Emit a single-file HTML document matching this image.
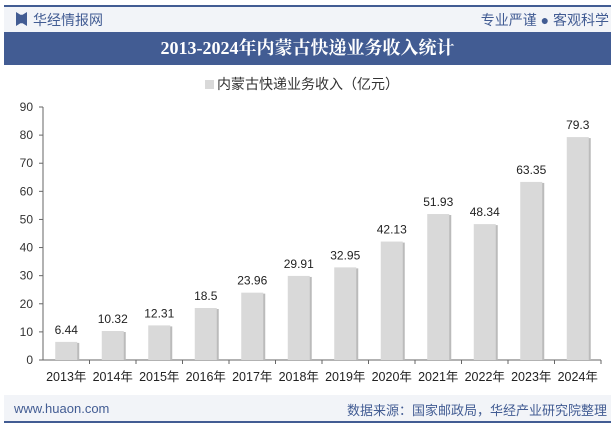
<!DOCTYPE html>
<html><head><meta charset="utf-8"><style>
body{margin:0;width:615px;height:427px;background:#fff;font-family:"Liberation Sans","Noto Sans CJK SC",sans-serif;position:relative;overflow:hidden}
.abs{position:absolute}
</style></head><body>
<div class="abs" style="left:4px;top:5px;width:607px;height:2px;background:#425c93"></div>
<div class="abs" style="left:4px;top:7px;width:607px;height:25px;background:#f2f4f8"></div>
<div class="abs" style="left:16px;top:12px;width:11px;height:14px;background:#425c93;clip-path:polygon(0 0,40% 20%,60% 20%,100% 0,100% 100%,60% 80%,40% 80%,0 100%)"></div>
<div class="abs" style="left:33px;top:10px;font-size:14px;color:#425c93">华经情报网</div>
<div class="abs" style="right:6px;top:10px;font-size:14px;color:#425c93">专业严谨 ● 客观科学</div>
<div class="abs" style="left:4px;top:32px;width:607px;height:33px;background:#425c93;color:#fff;font-family:'Liberation Serif','Noto Serif CJK SC',serif;font-weight:bold;font-size:18px;text-align:center;line-height:33px">2013-2024年内蒙古快递业务收入统计</div>
<div class="abs" style="left:205px;top:74px;font-size:14px;color:#333"><span style="display:inline-block;width:9px;height:9px;background:#d9d9d9;margin-right:3px"></span>内蒙古快递业务收入（亿元）</div>
<svg class="abs" style="left:0;top:0" width="615" height="427" id="chart"></svg>
<div class="abs" style="left:4px;top:395px;width:607px;height:27px;background:#f2f4f8"></div>
<div class="abs" style="left:4px;top:421px;width:607px;height:2px;background:#425c93"></div>
<div class="abs" style="left:14px;top:401px;font-size:13px;color:#425c93">www.huaon.com</div>
<div class="abs" style="right:8px;top:400px;font-size:13px;color:#425c93">数据来源：国家邮政局，华经产业研究院整理</div>
<script>
const categories=["2013年","2014年","2015年","2016年","2017年","2018年","2019年","2020年","2021年","2022年","2023年","2024年"];
const values=[6.44,10.32,12.31,18.5,23.96,29.91,32.95,42.13,51.93,48.34,63.35,79.3];
const valueLabels=["6.44","10.32","12.31","18.5","23.96","29.91","32.95","42.13","51.93","48.34","63.35","79.3"];
const yTicks=[0,10,20,30,40,50,60,70,80,90];
const svg=document.getElementById('chart');const NS='http://www.w3.org/2000/svg';
const x0=43,x1=601,y0=360,y1=107,ymax=90;
const bw=(x1-x0)/categories.length;
const y=v=>y0-(v/ymax)*(y0-y1);
const xc=i=>x0+bw*(i+0.5);
function mk(t,a,txt){const e=document.createElementNS(NS,t);for(const k in a)e.setAttribute(k,a[k]);if(txt!=null)e.textContent=txt;svg.appendChild(e);return e;}
let e=mk('line',{x1:x0,y1:y1,x2:x0,y2:y0,stroke:'#666'});

e=mk('line',{x1:x0,y1:y0,x2:x1,y2:y0,stroke:'#666'});

yTicks.forEach(t=>{const l=mk('line',{x1:x0-4,y1:y(t),x2:x0,y2:y(t),stroke:'#666'});

const tx=mk('text',{x:x0-10,y:y(t)+4,'text-anchor':'end','font-size':12,fill:'#333'},t);
});
categories.forEach((c,i)=>{
const tk=mk('line',{x1:x0+bw*(i+1),y1:y0,x2:x0+bw*(i+1),y2:y0+4,stroke:'#666'});

const sh=mk('rect',{x:xc(i)-11+2,y:y(values[i])+1,width:22,height:y0-y(values[i])-1,fill:'#bbb'});

const r=mk('rect',{x:xc(i)-11,y:y(values[i]),width:22,height:y0-y(values[i]),fill:'#d9d9d9'});

const v=mk('text',{x:xc(i),y:y(values[i])-8,'text-anchor':'middle','font-size':12,fill:'#222'},valueLabels[i]);

const xl=mk('text',{x:xc(i),y:381,'text-anchor':'middle','font-size':12.5,fill:'#222'},c);

});
</script>
</body></html>
